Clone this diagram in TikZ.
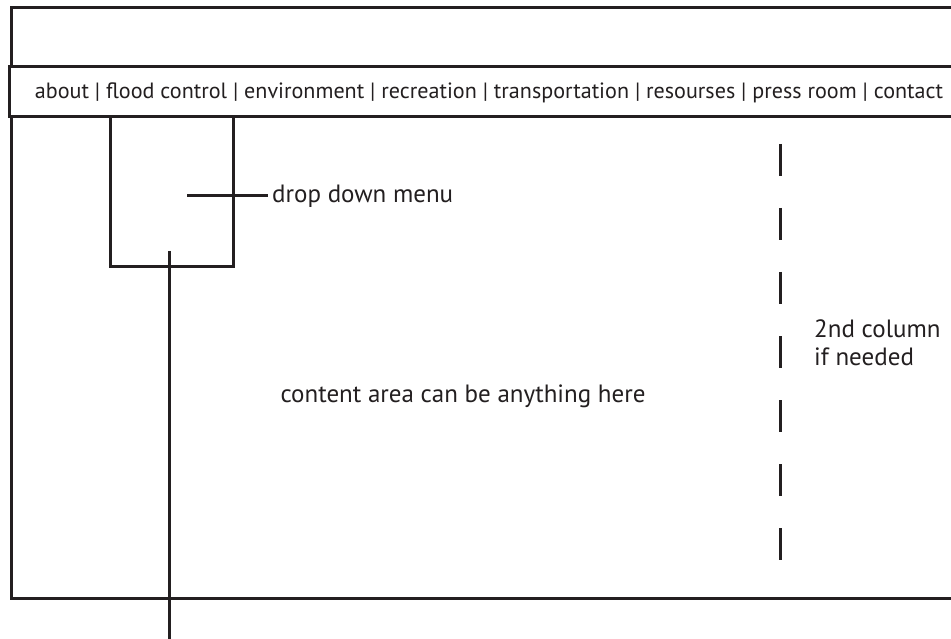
\documentclass[tikz,border=0pt]{standalone}
\usepackage{fontspec}
\setmainfont{PT Sans}
\definecolor{ink}{HTML}{231F20}
\begin{document}
\begin{tikzpicture}[x=1pt,y=-1pt,
  frame/.style={draw=ink,line width=3pt},
  lbl/.style={text=ink,inner sep=0pt,font=\fontsize{25}{28}\selectfont},
  navlbl/.style={text=ink,inner sep=0pt,font=\fontsize{22.1}{26}\selectfont},
  conn/.style={draw=ink,line width=3pt},
  dashcol/.style={draw=ink,line width=3pt,dash pattern=on 32pt off 32pt}]
\useasboundingbox (0,0) rectangle (951,639);
\clip (0,0) rectangle (951,639);
% outer page frame
\draw[frame,fill=white] (11,8) rectangle (980,598);
% navigation bar
\draw[frame,fill=white] (9,67) rectangle (980,117);
\node[navlbl] (nav) at (489,93) {about | flood control | environment | recreation | transportation | resourses | press room | contact};
% drop down box
\draw[frame] (110.5,117) rectangle (233,267);
\coordinate (ddin) at (187,196);
\node[lbl,anchor=west,inner xsep=4pt] (ddtext) at (268,196) {drop down menu};
\draw[conn] (ddin) -- (ddtext.west);
\coordinate (vtop) at (169,251);
\coordinate (vbot) at (169,640);
\draw[conn] (vtop) -- (vbot);
% content text
\node[lbl] (content) at (463,396) {content area can be anything here};
% dashed column divider
\coordinate (dtop) at (780,144);
\coordinate (dbot) at (780,560);
\draw[dashcol] (dtop) -- (dbot);
\node[lbl,anchor=north west,align=left] (col2) at (814,319) {2nd column\\if needed};
\end{tikzpicture}
\end{document}
